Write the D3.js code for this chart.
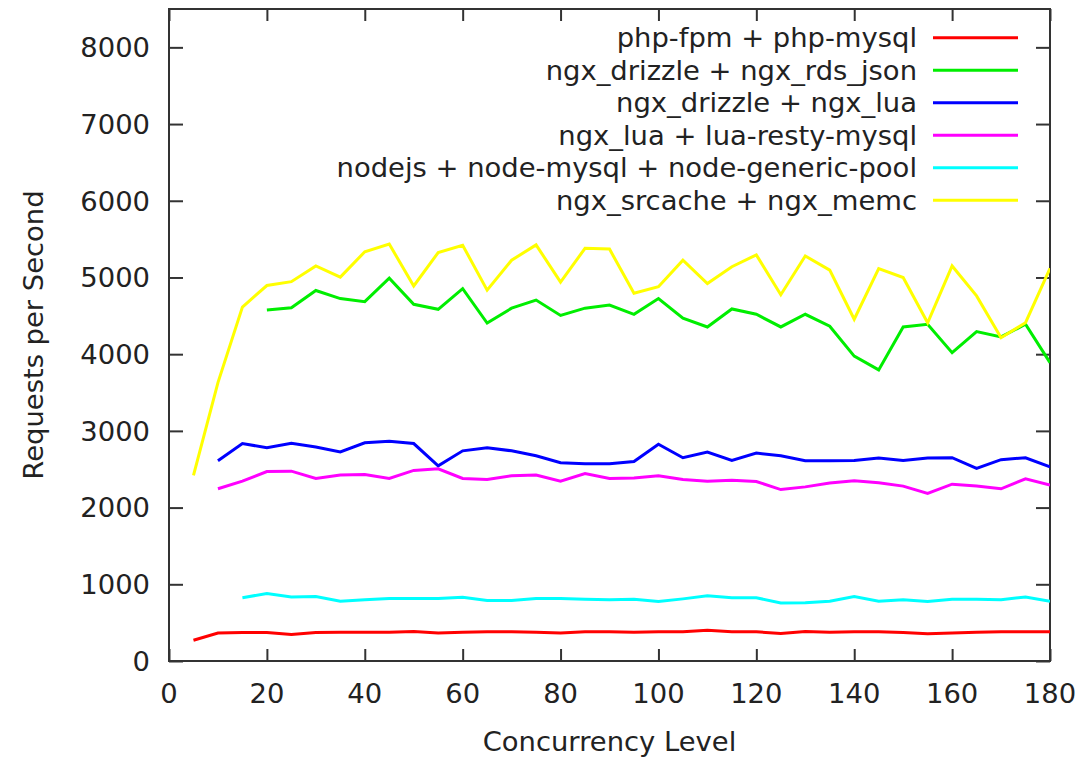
<!DOCTYPE html>
<html>
<head>
<meta charset="utf-8">
<script src="https://cdn.jsdelivr.net/npm/d3@7"></script>
<style>
  html, body { margin: 0; padding: 0; background: #fff; }
  svg text { font-family: "DejaVu Sans", sans-serif; fill: #222; }
</style>
</head>
<body>
<svg id="chart" width="1086" height="762"></svg>
<script>
const concurrency = [5,10,15,20,25,30,35,40,45,50,55,60,65,70,75,80,85,90,95,100,105,110,115,120,125,130,135,140,145,150,155,160,165,170,175,180];

const phpFpm = [270,365,370,370,345,370,375,375,375,385,365,375,380,380,375,365,380,380,375,380,380,400,380,380,360,385,375,380,380,370,355,365,375,380,380,380];
const drizzleRds = [null,null,null,4575,4605,4830,4725,4685,4990,4650,4585,4855,4405,4600,4705,4505,4600,4640,4520,4725,4470,4355,4590,4520,4355,4520,4365,3975,3795,4355,4390,4020,4295,4225,4390,3890];
const drizzleLua = [null,2610,2835,2780,2840,2790,2725,2845,2865,2835,2545,2740,2780,2740,2675,2585,2570,2570,2600,2825,2650,2725,2615,2710,2675,2610,2610,2615,2645,2615,2645,2650,2510,2625,2650,2530];
const luaResty = [null,2245,2345,2470,2475,2380,2425,2430,2380,2485,2505,2380,2365,2415,2425,2345,2445,2380,2385,2415,2365,2345,2355,2340,2235,2270,2320,2350,2325,2280,2185,2305,2280,2245,2375,2295];
const nodejs = [null,null,825,880,835,840,780,800,815,815,815,830,790,790,815,815,805,800,805,775,810,850,825,825,755,760,780,840,780,800,775,805,805,800,835,780];
const srcache = [2420,3630,4615,4895,4945,5150,5005,5335,5435,4890,5325,5420,4835,5225,5425,4940,5380,5370,4795,4880,5225,4920,5140,5295,4775,5280,5095,4455,5115,5000,4410,5150,4760,4215,4410,5120];

const seriesNames = ["php-fpm + php-mysql","ngx_drizzle + ngx_rds_json","ngx_drizzle + ngx_lua","ngx_lua + lua-resty-mysql","nodejs + node-mysql + node-generic-pool","ngx_srcache + ngx_memc"];
const seriesValues = [phpFpm, drizzleRds, drizzleLua, luaResty, nodejs, srcache];
const seriesColors = ["#ff0000","#00ee00","#0000ff","#ff00ff","#00ffff","#ffff00"];

const xTicks = [0,20,40,60,80,100,120,140,160,180];
const yTicks = [0,1000,2000,3000,4000,5000,6000,7000,8000];

const M = { left: 169, right: 1050, top: 9, bottom: 661 };
const svg = d3.select("#chart");

const x = d3.scaleLinear().domain([0,180]).range([M.left,M.right]);
const y = d3.scaleLinear().domain([0,8500]).range([M.bottom,M.top]);

const axisColor = "#333";
const fontSize = 27.4;

// ticks (inward, mirrored)
const yAxisL = svg.append("g").attr("transform",`translate(${M.left},0)`)
  .call(d3.axisRight(y).tickValues(yTicks).tickSize(14).tickFormat(""));
const yAxisR = svg.append("g").attr("transform",`translate(${M.right},0)`)
  .call(d3.axisLeft(y).tickValues(yTicks).tickSize(14).tickFormat(""));
const xAxisB = svg.append("g").attr("transform",`translate(0,${M.bottom})`)
  .call(d3.axisTop(x).tickValues(xTicks).tickSize(12).tickFormat(""));
const xAxisT = svg.append("g").attr("transform",`translate(0,${M.top})`)
  .call(d3.axisBottom(x).tickValues(xTicks).tickSize(12).tickFormat(""));
[yAxisL,yAxisR,xAxisB,xAxisT].forEach(g => {
  g.select(".domain").remove();
  g.selectAll("line").attr("stroke",axisColor).attr("stroke-width",2);
});

// tick labels
svg.append("g").selectAll("text").data(yTicks).join("text")
  .attr("x", 150).attr("y", d => y(d)).attr("dy", "0.36em")
  .attr("text-anchor","end").style("font-size", fontSize+"px")
  .text(d => d);
svg.append("g").selectAll("text").data(xTicks).join("text")
  .attr("x", d => x(d)).attr("y", 703)
  .attr("text-anchor","middle").style("font-size", fontSize+"px")
  .text(d => d);

// frame
svg.append("rect").attr("x",M.left).attr("y",M.top).attr("width",M.right-M.left).attr("height",M.bottom-M.top)
  .attr("fill","none").attr("stroke",axisColor).attr("stroke-width",2);

// axis titles
svg.append("text").attr("x",(M.left+M.right)/2).attr("y",751).attr("text-anchor","middle")
  .style("font-size", fontSize+"px").text("Concurrency Level");
svg.append("text").attr("transform",`translate(43,${(M.top+M.bottom)/2}) rotate(-90)`)
  .attr("text-anchor","middle").style("font-size", fontSize+"px").text("Requests per Second");

// lines
const line = d3.line()
  .defined(d => d.v !== null)
  .x(d => x(d.c)).y(d => y(d.v));

svg.append("clipPath").attr("id","clip").append("rect")
  .attr("x",M.left).attr("y",M.top).attr("width",M.right-M.left).attr("height",M.bottom-M.top);

const plotG = svg.append("g").attr("clip-path","url(#clip)");
seriesValues.forEach((vals, i) => {
  const pts = concurrency.map((c, j) => ({c, v: vals[j]}));
  plotG.append("path").datum(pts)
    .attr("fill","none").attr("stroke",seriesColors[i]).attr("stroke-width",3)
    .attr("stroke-linejoin","miter").attr("d", line);
});

// legend
const legendRowY = [37.7, 70.2, 102.7, 135.2, 167.7, 200.2];
const legend = svg.append("g");
seriesNames.forEach((name, i) => {
  legend.append("text").attr("x",917).attr("y",legendRowY[i]).attr("dy","0.35em")
    .attr("text-anchor","end").style("font-size", fontSize+"px").text(name);
  legend.append("line").attr("x1",933).attr("x2",1018)
    .attr("y1",legendRowY[i]).attr("y2",legendRowY[i])
    .attr("stroke",seriesColors[i]).attr("stroke-width",3);
});
</script>
</body>
</html>
